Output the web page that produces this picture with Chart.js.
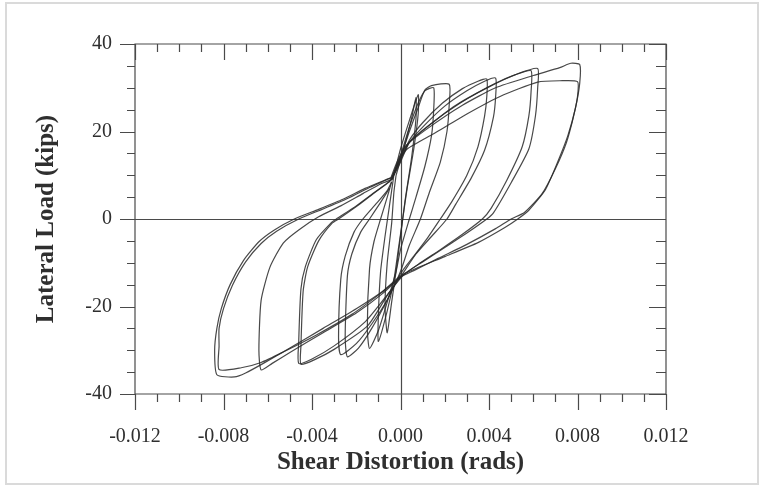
<!DOCTYPE html>
<html>
<head>
<meta charset="utf-8">
<style>
  html, body { margin: 0; padding: 0; background: #fff; }
  canvas { display: block; }
</style>
<script src="https://cdn.jsdelivr.net/npm/chart.js@4.4.1/dist/chart.umd.min.js"></script>
</head>
<body>
<canvas id="chart" width="767" height="486"></canvas>
<script>
// Axis ranges and labelled ticks
const xRange = [-0.012, 0.012];
const yRange = [-40, 40];
const xMajorTicks = [-0.012, -0.008, -0.004, 0, 0.004, 0.008, 0.012];
const yMajorTicks = [-40, -20, 0, 20, 40];

// Hysteresis cycles: [shear distortion (rads), lateral load (kips)]
const cycle1 = [
  [-0.0002, 10], [0.0002, 17], [0.0005, 23], [0.0007, 27.8],
  [0.0007, 23], [0.0005, 14], [0.0002, 4], [0.0, -4], [-0.0002, -12],
  [-0.0004, -19], [-0.0006, -26],
  [-0.0007, -20], [-0.0006, -10], [-0.0004, -1], [-0.0003, 6], [-0.0002, 10]
];
const cycle2 = [
  [-0.0003, 10], [0.0, 16], [0.0004, 22.5], [0.0008, 28.4],
  [0.0008, 24], [0.0006, 16], [0.0003, 7], [0.0001, 0], [-0.0001, -7], [-0.0003, -14],
  [-0.0006, -21], [-0.0010, -28],
  [-0.0010, -22], [-0.0009, -12], [-0.0007, -4], [-0.0005, 3], [-0.0003, 10]
];
const cycle3 = [
  [-0.0004, 9], [0.0, 14.5], [0.0004, 21], [0.0008, 26.5], [0.0011, 29.3], [0.0015, 30],
  [0.0015, 25], [0.0014, 19], [0.0011, 12], [0.0007, 5], [0.0004, 0], [0.0, -7], [-0.0002, -12],
  [-0.0006, -19], [-0.0010, -25.5], [-0.0014, -29.6],
  [-0.0015, -25], [-0.0014, -11.4], [-0.0012, -5.2], [-0.0009, 0], [-0.0006, 5], [-0.0004, 8.5]
];
const cycle4 = [
  [-0.0004, 9], [0.0, 14], [0.0004, 20], [0.0008, 25.5], [0.0011, 29.5], [0.0014, 30.5], [0.0022, 30.8],
  [0.0022, 26], [0.0021, 20], [0.0018, 13], [0.0013, 6], [0.0009, 0], [0.0004, -6], [0.0, -12],
  [-0.0006, -18.5], [-0.0013, -25], [-0.0019, -29.5], [-0.0024, -31.5],
  [-0.0025, -27], [-0.0024, -13], [-0.0022, -8], [-0.0018, -3], [-0.0014, 0], [-0.0009, 3.8], [-0.0005, 7]
];
const cycle5 = [
  [-0.0004, 9], [0.0, 13.5], [0.0004, 18], [0.0010, 22], [0.0019, 26.5], [0.0028, 29.8], [0.0035, 31.5], [0.0039, 32],
  [0.0039, 28], [0.0038, 23.5], [0.0035, 16.5], [0.0030, 10], [0.0023, 3.8], [0.0018, 0], [0.0012, -4.5], [0.0006, -8.5], [0.0, -12.5],
  [-0.0006, -18.5], [-0.0013, -24], [-0.0020, -28.5], [-0.0027, -31],
  [-0.0028, -27], [-0.0027, -13.8], [-0.0025, -8.5], [-0.0021, -3], [-0.0017, 0], [-0.0011, 3.5], [-0.0006, 6.5], [-0.0004, 8.5]
];
const cycle6 = [
  [-0.0004, 9], [0.0, 13], [0.0004, 17.5], [0.0011, 21.5], [0.0020, 25.8], [0.0030, 29.3], [0.0038, 31.5], [0.0043, 32.2],
  [0.0043, 28], [0.0042, 23.3], [0.0038, 15.7], [0.0032, 9.4], [0.0025, 3.4], [0.0021, 0], [0.0014, -4], [0.0007, -8], [0.0001, -12.5],
  [-0.0006, -17.5], [-0.0015, -24.5], [-0.0030, -29.8], [-0.0039, -32.2], [-0.0045, -33.2],
  [-0.0045, -29], [-0.0044, -16.5], [-0.0042, -11], [-0.0037, -5], [-0.0031, -1], [-0.0028, 0], [-0.0019, 3.2], [-0.0011, 6.3], [-0.0005, 8.5]
];
const cycle7 = [
  [-0.0004, 9.3], [0.0, 13.5], [0.0004, 17.5], [0.0013, 21.5], [0.0027, 26.5], [0.0042, 30.8], [0.0052, 33], [0.0059, 33.9],
  [0.0059, 29], [0.0058, 23.5], [0.0055, 16.5], [0.0048, 8.8], [0.0041, 2.5], [0.0037, 0], [0.0028, -3.5], [0.0018, -7], [0.0009, -10], [0.0001, -13],
  [-0.0007, -18], [-0.0016, -23.5], [-0.0030, -29], [-0.0040, -32], [-0.0046, -33],
  [-0.0046, -28], [-0.0045, -16], [-0.0043, -10.9], [-0.0038, -4.7], [-0.0031, -0.7], [-0.0029, 0], [-0.0020, 3], [-0.0012, 6], [-0.0006, 8.2], [-0.0004, 9]
];
const cycle8 = [
  [-0.0004, 9], [-0.0001, 13], [0.0003, 17], [0.0012, 21], [0.0025, 26], [0.0040, 30.2], [0.0053, 33.2], [0.0062, 34.4],
  [0.0062, 30], [0.0061, 23.6], [0.0058, 16], [0.0050, 8.3], [0.0042, 1.4], [0.0039, 0], [0.0030, -3.2], [0.0020, -6.5], [0.0010, -9.8], [0.0001, -12.8],
  [-0.0008, -17], [-0.0020, -21.5], [-0.0035, -26], [-0.0050, -30.5], [-0.0058, -33], [-0.0063, -34.5],
  [-0.0064, -30], [-0.0063, -18.6], [-0.0059, -11], [-0.0053, -5.5], [-0.0046, -2.5], [-0.0037, 0.5], [-0.0027, 3], [-0.0017, 5.8], [-0.0009, 8], [-0.0004, 9]
];
const cycle9 = [
  [-0.0005, 8.5], [-0.0002, 12.5], [0.0002, 16.5], [0.0012, 20.6], [0.0028, 26], [0.0043, 30], [0.0060, 32.8], [0.0072, 34.6], [0.0077, 35.6], [0.0081, 35.3],
  [0.0081, 31], [0.0079, 25.2], [0.00756, 19], [0.0071, 13], [0.00655, 6.7], [0.0058, 2], [0.0053, 0], [0.0047, -2], [0.0035, -5.4], [0.0020, -8.6], [0.0007, -11.3], [0.0, -13],
  [-0.0008, -16.5], [-0.0020, -20.5], [-0.0035, -25], [-0.0050, -29.5], [-0.0062, -33], [-0.0070, -35.2], [-0.0075, -36.1], [-0.0083, -35.6],
  [-0.0084, -30], [-0.0083, -25], [-0.0081, -20.5], [-0.0077, -15], [-0.0071, -9.5], [-0.0064, -5.2], [-0.0057, -2.5], [-0.0048, 0], [-0.0037, 2.2], [-0.0026, 4.5], [-0.0016, 7], [-0.0008, 8.7], [-0.0004, 9.5]
];
const cycle10 = [
  [-0.0004, 9.5], [-0.0001, 13], [0.0003, 16], [0.0015, 19.5], [0.0030, 24], [0.0045, 28], [0.0062, 31.3], [0.0072, 31.6], [0.0080, 31.4],
  [0.0080, 28], [0.0078, 23], [0.0075, 17.5], [0.0070, 11.5], [0.0064, 5.8], [0.0056, 1.5], [0.0050, 0], [0.0043, -2.2], [0.0030, -5.8], [0.0017, -9], [0.0006, -11.8], [0.0, -13.3],
  [-0.0009, -17], [-0.0022, -21.8], [-0.0038, -26.5], [-0.0053, -30.4], [-0.0063, -32.8], [-0.0072, -34], [-0.0082, -34.4],
  [-0.0082, -29], [-0.0082, -25], [-0.0080, -20.5], [-0.0076, -15.2], [-0.0070, -9.8], [-0.0063, -5.6], [-0.0056, -2.8], [-0.0046, 0], [-0.0035, 2.3], [-0.0024, 4.7], [-0.0014, 7.2], [-0.0007, 8.8], [-0.0004, 9.5]
];

const cycles = [cycle1, cycle2, cycle3, cycle4, cycle5, cycle6, cycle7, cycle8, cycle9, cycle10];

const isMajor = (v, list) => list.some(m => Math.abs(m - v) < 1e-9);

const serif = '"Liberation Serif", "Times New Roman", serif';
const inkColor = '#2f2f2f';
const frameColor = '#4a4a4a';

// Frame box with tick marks: left/bottom ticks point outward, top/right ticks point inward
const framePlugin = {
  id: 'frame',
  beforeDraw(chart) {
    const ctx = chart.ctx;
    ctx.save();
    ctx.strokeStyle = '#dadada';
    ctx.lineWidth = 2;
    ctx.strokeRect(6, 3, 752, 481);
    ctx.restore();
  },
  beforeDatasetsDraw(chart) {
    const {ctx, chartArea: a, scales: {x, y}} = chart;
    ctx.save();
    ctx.strokeStyle = frameColor;
    ctx.lineWidth = 1.2;
    ctx.beginPath();
    ctx.rect(a.left, a.top, a.right - a.left, a.bottom - a.top);
    x.ticks.forEach(t => {
      const px = Math.round(x.getPixelForValue(t.value)) + 0.5;
      const major = isMajor(t.value, xMajorTicks);
      ctx.moveTo(px, a.bottom); ctx.lineTo(px, a.bottom + (major ? 16 : 8));
      ctx.moveTo(px, a.top); ctx.lineTo(px, a.top + (major ? 16 : 8));
    });
    y.ticks.forEach(t => {
      const py = Math.round(y.getPixelForValue(t.value)) + 0.5;
      const major = isMajor(t.value, yMajorTicks);
      ctx.moveTo(a.left - (major ? 15 : 8), py); ctx.lineTo(a.left, py);
      ctx.moveTo(a.right - (major ? 17 : 10), py); ctx.lineTo(a.right, py);
    });
    // zero reference lines
    const x0 = Math.round(x.getPixelForValue(0)) + 0.5;
    const y0 = Math.round(y.getPixelForValue(0)) + 0.5;
    ctx.moveTo(a.left - 15, y0); ctx.lineTo(a.right, y0);
    ctx.moveTo(x0, a.top); ctx.lineTo(x0, a.bottom + 16);
    ctx.stroke();
    ctx.restore();
  }
};

new Chart(document.getElementById('chart'), {
  type: 'scatter',
  data: {
    datasets: cycles.map((c, i) => ({
      label: 'Cycle ' + (i + 1),
      data: c.map(([sx, load]) => ({x: sx, y: load})),
      showLine: true,
      borderColor: 'rgba(40,40,40,0.85)',
      borderWidth: 1.2,
      pointRadius: 0,
      tension: 0.2,
      fill: false
    }))
  },
  options: {
    responsive: false,
    animation: false,
    layout: {padding: {left: 0, right: 101, top: 44, bottom: 0}},
    plugins: {legend: {display: false}, tooltip: {enabled: false}},
    scales: {
      x: {
        type: 'linear',
        position: 'bottom',
        min: xRange[0],
        max: xRange[1],
        afterFit(s) { s.height = 92; },
        grid: {display: false, drawTicks: false},
        border: {display: false},
        ticks: {
          stepSize: 0.001,
          autoSkip: false,
          maxRotation: 0,
          padding: 31,
          color: inkColor,
          font: {family: serif, size: 20},
          callback: v => isMajor(v, xMajorTicks) ? (Math.abs(v) < 1e-9 ? 0 : v).toFixed(3) : ''
        },
        title: {
          display: true,
          text: 'Shear Distortion (rads)',
          color: inkColor,
          font: {family: serif, size: 25, weight: 'bold'},
          padding: {top: 0, bottom: 8}
        }
      },
      y: {
        type: 'linear',
        position: 'left',
        min: yRange[0],
        max: yRange[1],
        afterFit(s) { s.width = 135; },
        grid: {display: false, drawTicks: false},
        border: {display: false},
        ticks: {
          stepSize: 5,
          autoSkip: false,
          padding: 23,
          color: inkColor,
          font: {family: serif, size: 20},
          callback: v => isMajor(v, yMajorTicks) ? String(v) : ''
        },
        title: {
          display: true,
          text: 'Lateral Load (kips)',
          color: inkColor,
          font: {family: serif, size: 25, weight: 'bold'},
          padding: {top: 32, bottom: 0}
        }
      }
    }
  },
  plugins: [framePlugin]
});
</script>
</body>
</html>
